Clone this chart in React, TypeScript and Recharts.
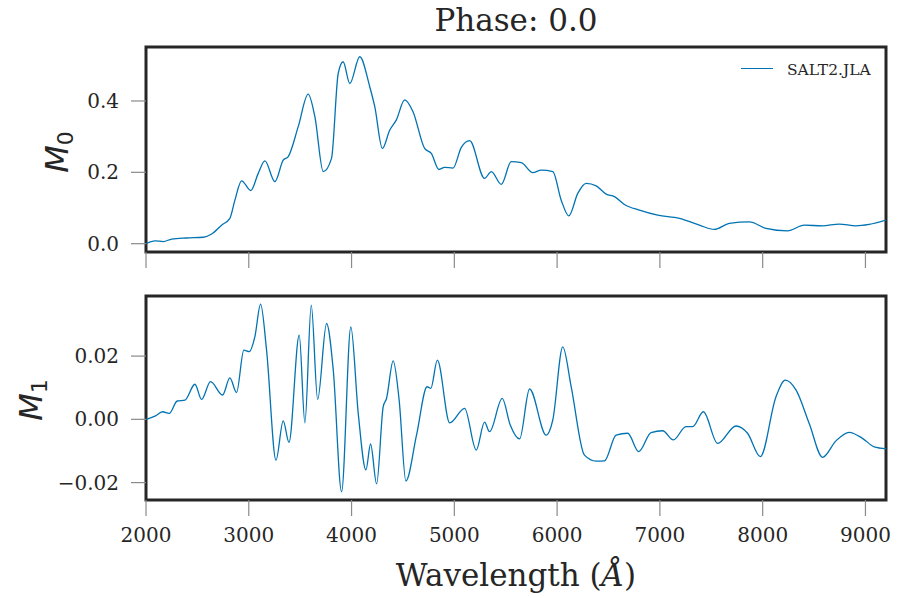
import React from "react";
import {
  LineChart,
  Line,
  XAxis,
  YAxis,
  ReferenceArea,
  Legend,
} from "recharts";

// wavelength grid (Å) and SALT2 components
const m0Wave = [
  2000, 2087, 2168, 2250, 2395, 2557, 2638, 2735, 2816, 2865, 2930, 3020, 3092, 3157, 3254, 3335,
  3384, 3481, 3578, 3643, 3725, 3805, 3870, 3918, 3983, 4080, 4177, 4226, 4300, 4371, 4436, 4517,
  4598, 4711, 4776, 4850, 4905, 4987, 5068, 5149, 5294, 5360, 5457, 5554, 5651, 5764, 5845, 5958,
  6040, 6114, 6201, 6283, 6380, 6477, 6558, 6655, 6801, 6979, 7190, 7384, 7530, 7675, 7870, 8032,
  8242, 8404, 8580, 8745, 8907, 9036, 9200,
];
const m0Flux = [
  0.0, 0.008, 0.006, 0.013, 0.016, 0.018, 0.027, 0.052, 0.071, 0.122, 0.176, 0.149, 0.197, 0.232,
  0.174, 0.234, 0.244, 0.328, 0.419, 0.356, 0.202, 0.239, 0.477, 0.51, 0.449, 0.524, 0.44, 0.384,
  0.267, 0.318, 0.347, 0.403, 0.37, 0.267, 0.253, 0.208, 0.214, 0.212, 0.27, 0.289, 0.183, 0.202,
  0.166, 0.23, 0.227, 0.199, 0.206, 0.202, 0.122, 0.078, 0.141, 0.169, 0.162, 0.139, 0.132, 0.11,
  0.094, 0.08, 0.071, 0.052, 0.04, 0.057, 0.061, 0.043, 0.036, 0.052, 0.05, 0.055, 0.05, 0.054,
  0.066,
];

const m1Wave = [
  2000, 2087, 2162, 2226, 2304, 2379, 2476, 2541, 2628, 2745, 2816, 2881, 2952, 3004, 3059, 3115,
  3173, 3265, 3335, 3391, 3491, 3546, 3608, 3670, 3757, 3822, 3903, 3993, 4065, 4140, 4185, 4244,
  4308, 4340, 4405, 4463, 4529, 4632, 4735, 4771, 4835, 4955, 5100, 5213, 5294, 5343, 5466, 5544,
  5635, 5732, 5894, 5958, 6055, 6137, 6266, 6380, 6461, 6574, 6687, 6794, 6914, 7027, 7131, 7254,
  7319, 7423, 7562, 7740, 7853, 7977, 8129, 8220, 8324, 8453, 8583, 8713, 8842, 8971, 9085, 9200,
];
const m1Flux = [
  0.0, 0.001, 0.0024, 0.0019, 0.0058, 0.0061, 0.0111, 0.0063, 0.0119, 0.0077, 0.0131, 0.0085,
  0.0219, 0.0214, 0.0261, 0.0364, 0.0219, -0.0129, -0.0005, -0.0073, 0.0266, -0.0011, 0.0361,
  0.0063, 0.0303, 0.0156, -0.0229, 0.0292, 0.0019, -0.016, -0.0078, -0.0204, 0.004, 0.0066, 0.0185,
  0.0061, -0.0195, -0.005, 0.0103, 0.0098, 0.0187, -0.0011, 0.0035, -0.0097, -0.0009, -0.0039,
  0.0066, -0.0018, -0.0062, 0.0096, -0.005, -0.0002, 0.0229, 0.0103, -0.0113, -0.0132, -0.0131,
  -0.005, -0.0044, -0.0102, -0.0042, -0.0036, -0.0065, -0.0023, -0.0023, 0.0024, -0.0076, -0.0021,
  -0.0044, -0.0118, 0.0071, 0.0124, 0.0093, -0.0013, -0.012, -0.0068, -0.0041, -0.006, -0.0087,
  -0.0093,
];

const xTicks = [2000, 3000, 4000, 5000, 6000, 7000, 8000, 9000];
const m0Ticks = [0, 0.2, 0.4];
const m1Ticks = [-0.02, 0, 0.02];

const X_DOMAIN: [number, number] = [2000, 9200];
const M0_DOMAIN: [number, number] = [-0.0233, 0.5513];
const M1_DOMAIN: [number, number] = [-0.0255, 0.039];

const BLUE = "#0173b2";
const INK = "#262626";
const TICK = "#8a8a8a";
const SERIF = "'DejaVu Serif', serif";
const SANS = "'DejaVu Sans', sans-serif";

const m0Data = m0Wave.map((w, i) => ({ wave: w, flux: m0Flux[i] }));
const m1Data = m1Wave.map((w, i) => ({ wave: w, flux: m1Flux[i] }));

const tickFont = { fontSize: 20, fontFamily: SERIF, fill: INK };

// rotated "M_n" label, baseline at viewBox.x + bx
function MLabel({ viewBox, sub, bx, cy }: any) {
  const x = viewBox.x + bx;
  return (
    <text
      x={x}
      y={cy}
      transform={`rotate(-90, ${x}, ${cy})`}
      textAnchor="middle"
      fill={INK}
      fontFamily={SANS}
    >
      <tspan fontSize={32} fontStyle="italic">M</tspan>
      <tspan fontSize={22} dy={5}>{sub}</tspan>
    </text>
  );
}

function WaveLabel({ viewBox }: any) {
  return (
    <text
      x={viewBox.x + viewBox.width / 2}
      y={viewBox.y + 86}
      textAnchor="middle"
      fill={INK}
      fontFamily={SERIF}
      fontSize={31}
    >
      Wavelength (<tspan fontStyle="italic">Å</tspan>)
    </text>
  );
}

function LegendBox() {
  return (
    <div style={{ display: "flex", alignItems: "center", fontFamily: SERIF, fontSize: 15.5, color: INK }}>
      <div style={{ width: 32, borderTop: `1.3px solid ${BLUE}`, marginRight: 14 }} />
      <span style={{ lineHeight: "18px", marginTop: 3 }}>SALT2.JLA</span>
    </div>
  );
}

export default function App() {
  return (
    <div style={{ position: "absolute", left: 0, top: 0, width: 898, height: 598, background: "#fff" }}>
      <div
        style={{
          position: "absolute",
          left: 146,
          width: 740,
          top: 5,
          textAlign: "center",
          fontFamily: SERIF,
          fontSize: 31,
          lineHeight: "31px",
          color: INK,
        }}
      >
        Phase: 0.0
      </div>

      <div style={{ position: "absolute", left: 0, top: 0 }}>
        <LineChart width={898} height={280} data={m0Data} margin={{ top: 47, right: 12, bottom: 0, left: 0 }}>
          <XAxis
            dataKey="wave"
            type="number"
            domain={X_DOMAIN}
            ticks={xTicks}
            allowDataOverflow
            height={28}
            axisLine={false}
            tickSize={16}
            tickLine={{ stroke: TICK, strokeWidth: 1.2 }}
            tickFormatter={() => ""}
          />
          <YAxis
            type="number"
            domain={M0_DOMAIN}
            ticks={m0Ticks}
            allowDataOverflow
            width={146}
            axisLine={false}
            tickSize={15}
            tickMargin={12}
            tickLine={{ stroke: TICK, strokeWidth: 1.2 }}
            tick={tickFont}
            tickFormatter={(v: number) => v.toFixed(1)}
            label={{ content: (p: any) => <MLabel {...p} sub="0" bx={68} cy={152} /> }}
          />
          <Legend
            layout="horizontal"
            verticalAlign="middle"
            align="center"
            content={() => <LegendBox />}
            wrapperStyle={{ top: 58, left: 741, right: "auto", bottom: "auto", width: 150 }}
          />
          <Line
            dataKey="flux"
            name="SALT2.JLA"
            type="monotone"
            stroke={BLUE}
            strokeWidth={1.3}
            dot={false}
            isAnimationActive={false}
          />
          <ReferenceArea
            x1={X_DOMAIN[0]}
            x2={X_DOMAIN[1]}
            y1={M0_DOMAIN[0]}
            y2={M0_DOMAIN[1]}
            fill="none"
            fillOpacity={0}
            stroke={INK}
            strokeWidth={3}
          />
        </LineChart>
      </div>

      <div style={{ position: "absolute", left: 0, top: 280 }}>
        <LineChart width={898} height={318} data={m1Data} margin={{ top: 16, right: 12, bottom: 0, left: 0 }}>
          <XAxis
            dataKey="wave"
            type="number"
            domain={X_DOMAIN}
            ticks={xTicks}
            allowDataOverflow
            height={98}
            axisLine={false}
            tickSize={16}
            tickMargin={12}
            tickLine={{ stroke: TICK, strokeWidth: 1.2 }}
            tick={tickFont}
            label={{ content: (p: any) => <WaveLabel {...p} /> }}
          />
          <YAxis
            type="number"
            domain={M1_DOMAIN}
            ticks={m1Ticks}
            allowDataOverflow
            width={146}
            axisLine={false}
            tickSize={15}
            tickMargin={12}
            tickLine={{ stroke: TICK, strokeWidth: 1.2 }}
            tick={tickFont}
            tickFormatter={(v: number) => (v < 0 ? "\u2212" : "") + Math.abs(v).toFixed(2)}
            label={{ content: (p: any) => <MLabel {...p} sub="1" bx={42} cy={120} /> }}
          />
          <Line
            dataKey="flux"
            type="monotone"
            stroke={BLUE}
            strokeWidth={1.3}
            dot={false}
            isAnimationActive={false}
          />
          <ReferenceArea
            x1={X_DOMAIN[0]}
            x2={X_DOMAIN[1]}
            y1={M1_DOMAIN[0]}
            y2={M1_DOMAIN[1]}
            fill="none"
            fillOpacity={0}
            stroke={INK}
            strokeWidth={3}
          />
        </LineChart>
      </div>
    </div>
  );
}
